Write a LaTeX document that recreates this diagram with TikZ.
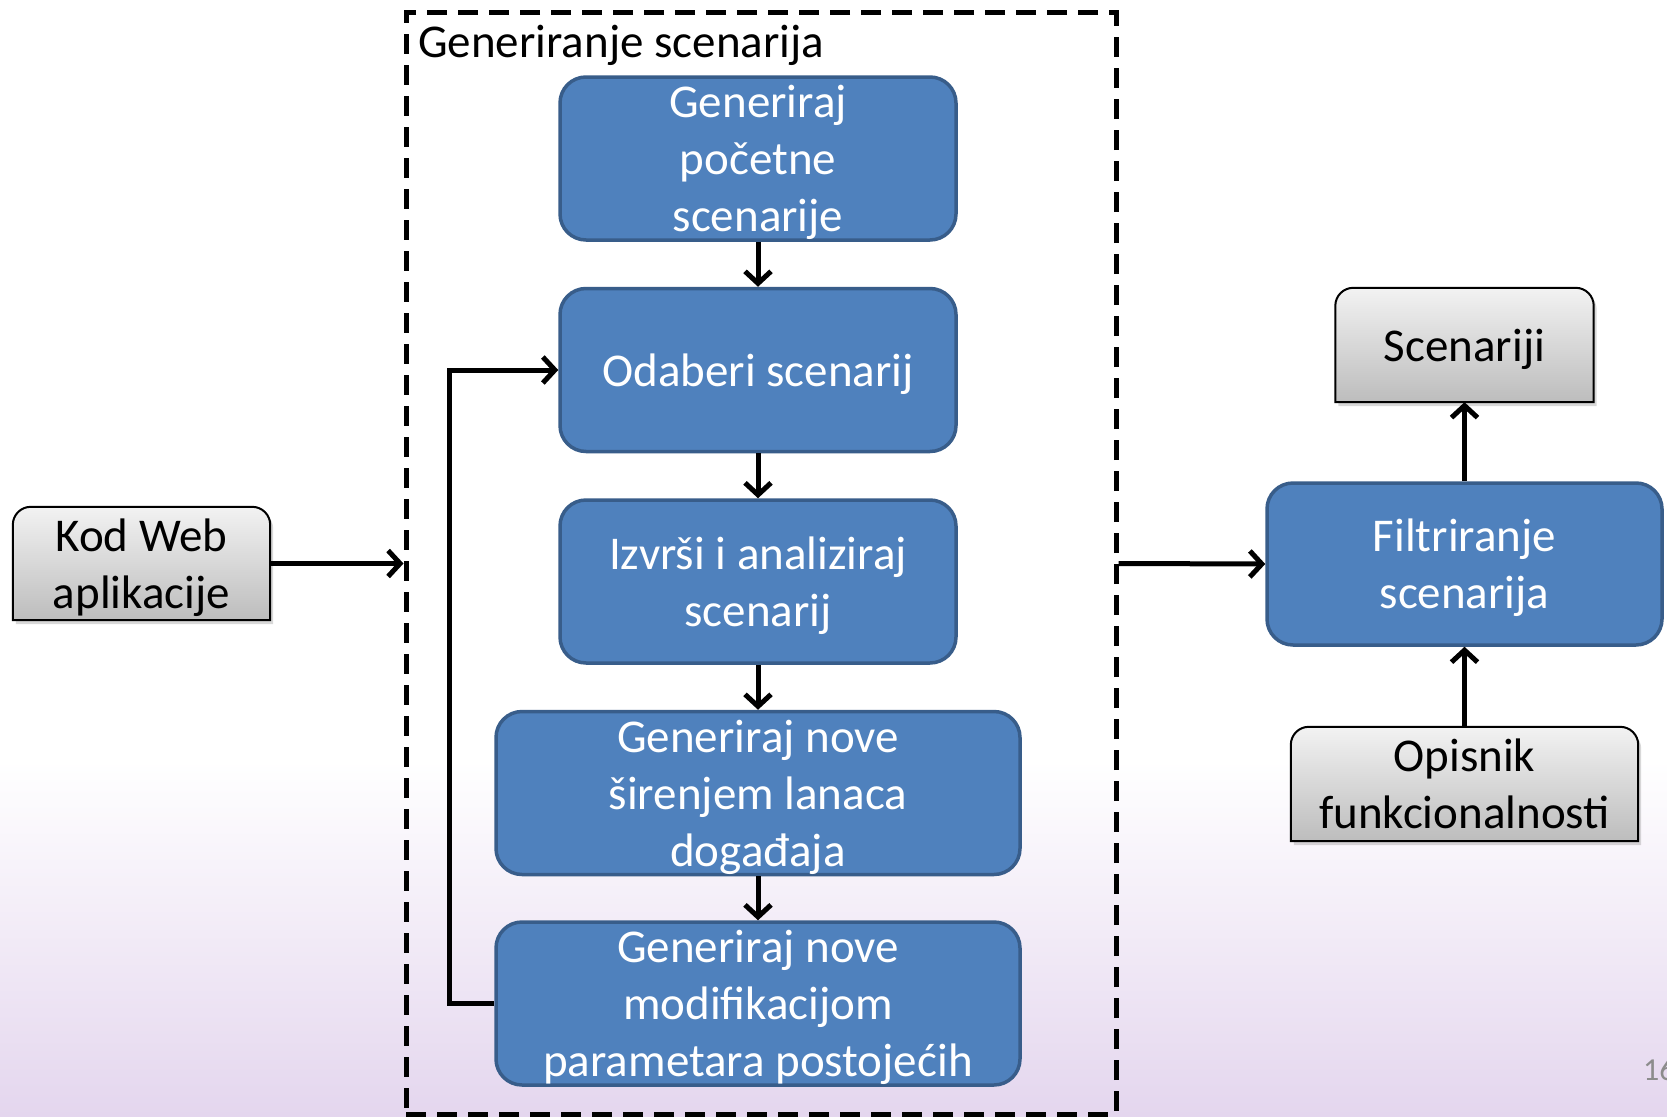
\documentclass[tikz,border=0pt]{standalone}
\usepackage{fontspec}
\setmainfont{Carlito}
\usepackage{xcolor}
\usepackage{tikz}
\usetikzlibrary{arrows.meta}
\usetikzlibrary{positioning}
\usetikzlibrary{backgrounds}
\usetikzlibrary{shadows}
\definecolor{plava}{RGB}{79,129,189}
\definecolor{plavarub}{RGB}{56,93,138}
\definecolor{lila}{RGB}{228,214,238}
\tikzset{
    korak/.style = {rectangle, rounded corners=26pt, draw=plavarub, line width=3.5pt, fill=plava, text=white, align=center, inner sep=0pt, minimum height=163pt},
    siva/.style = {rectangle, align=center, inner sep=0pt, minimum height=113pt},
    tekst/.style = {font=\fontsize{47}{57}\selectfont, text depth=0pt},
    strelica/.style = {line width=5pt, -{Straight Barb[length=12pt,width=26pt]}}
}
% obrub sive kutije, zaobljen samo gore
\newcommand\sivirub[1]{%
    \path[draw=black, line width=2pt, top color=black!5, bottom color=black!26,
        drop shadow={shadow xshift=3pt, shadow yshift=-4pt, opacity=.3}]
        (#1.south west) [rounded corners=18pt] -- (#1.north west) -- (#1.north east)
        [sharp corners] -- (#1.south east) -- cycle;}

\begin{document}
\begin{tikzpicture}[x=1pt, y=-1pt]
                \useasboundingbox (0,0) rectangle (1667,1116);
                \begin{scope}[on background layer]
                    \fill[white] (0,0) rectangle (1667,1116);
                    \shade[top color=white, bottom color=lila] (0,760) rectangle (1667,1116);
                \end{scope}
                \node (okvir) [rectangle, draw, line width=5pt, dash pattern=on 20pt off 11pt,
                    minimum width=710pt, minimum height=1101pt, inner sep=0pt] at (761, 563.5) {};
                \node (naslov) [tekst, anchor=base west, inner sep=0pt] at (418, 57) {Generiranje scenarija};
                \node (pocetne) [korak, tekst, minimum width=396pt] at (758, 158.5) {Generiraj\\početne\\scenarije};
                \node (odaberi) [korak, tekst, minimum width=396pt] at (758, 370) {Odaberi scenarij};
                \node (izvrsi) [korak, tekst, minimum width=396pt] at (758, 581.5) {Izvrši i analiziraj\\scenarij};
                \node (sirenje) [korak, tekst, minimum width=524pt] at (758, 793) {Generiraj nove\\širenjem lanaca\\događaja};
                \node (modif) [korak, tekst, minimum width=524pt] at (758, 1003.5) {Generiraj nove\\modifikacijom\\parametara postojećih};
                \path[strelica] (pocetne) edge (odaberi)
                (odaberi) edge (izvrsi)
                (izvrsi) edge (sirenje)
                (sirenje) edge (modif);
                \coordinate (petlja) at (449, 0);
                \draw[strelica] (modif.west) -- (modif.west -| petlja) -- (odaberi.west -| petlja) -- (odaberi.west);
                \node (kod) [siva, tekst, minimum width=257pt] at (141.5, 563.5) {Kod Web\\aplikacije};
                \node (filtar) [korak, tekst, minimum width=395pt, minimum height=162pt] at (1464.5, 564) {Filtriranje\\scenarija};
                \node (scenariji) [siva, tekst, minimum width=258pt, minimum height=114pt] at (1464.5, 345) {Scenariji};
                \node (opisnik) [siva, tekst, minimum width=347pt, minimum height=114pt] at (1464.5, 784) {Opisnik\\funkcionalnosti};
                \begin{scope}[on background layer]
                    \sivirub{kod}
                    \sivirub{scenariji}
                    \sivirub{opisnik}
                \end{scope}
                \draw[strelica] (kod.east) -- (kod.east -| okvir.west);
                \draw[strelica] (kod.east -| okvir.east) -- (filtar.west);
                \path[strelica] (filtar) edge (scenariji)
                (opisnik) edge (filtar);
                \node (broj) [anchor=base west, inner sep=0pt, text=black!45, font=\fontsize{32}{38}\selectfont] at (1643, 1080) {16};
            \end{tikzpicture}
\end{document}
